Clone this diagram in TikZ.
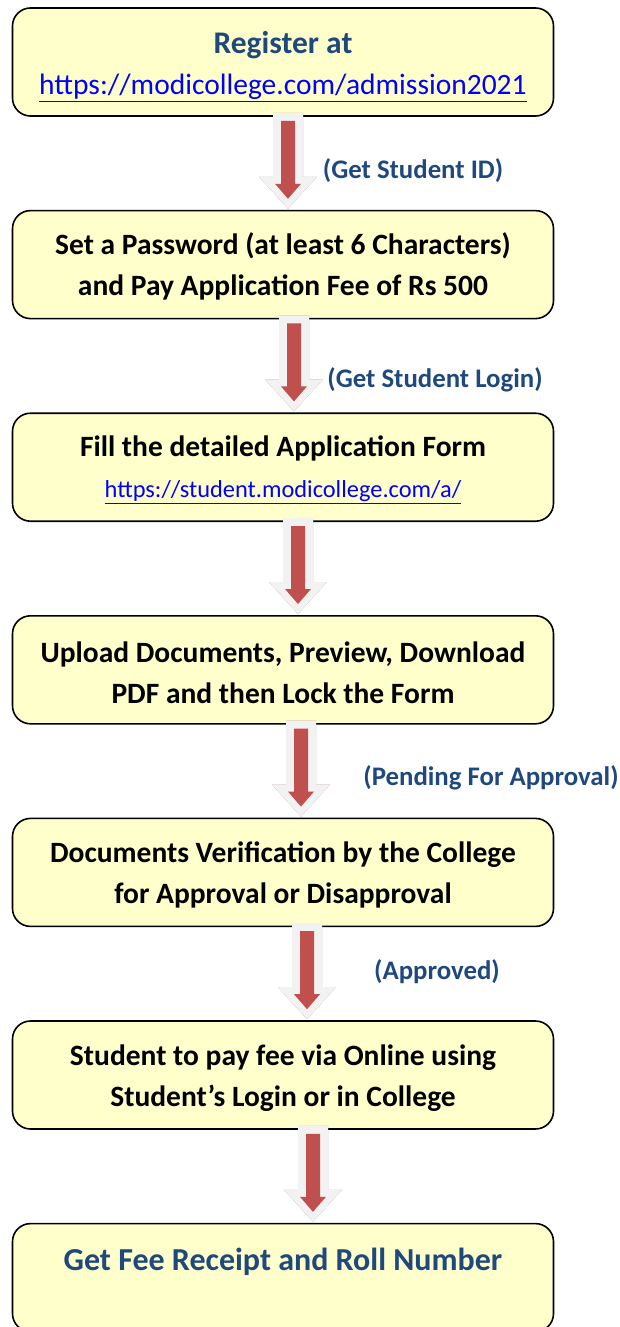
\documentclass[tikz,border=0pt]{standalone}
\usepackage{fontspec}
\setmainfont{Carlito}
\usepackage{xcolor}
\definecolor{BOXCOLOR}{RGB}{255,255,204}
\definecolor{TITLECOLOR}{RGB}{31,73,125}
\definecolor{LINKCOLOR}{RGB}{0,0,255}
\definecolor{ARROWCOLOR}{RGB}{192,80,77}
\definecolor{ARROWBGCOLOR}{RGB}{242,242,242}
\definecolor{SHADOWCOLOR}{RGB}{170,130,130}
\usepackage{tikz}
\usetikzlibrary{positioning,calc}
\tikzset{
  box-style/.style = {
    rectangle, rounded corners=18pt, draw=black, line width=1.6pt,
    fill=BOXCOLOR,
    minimum width=541pt,
    minimum height=108pt,
    inner sep=0pt,
    align=center,
    font=\fontsize{29.5}{41}\selectfont\bfseries
  },
  label-style/.style = {
    text=TITLECOLOR, font=\fontsize{26.8}{30}\selectfont\bfseries, inner sep=0pt
  }
}
\newcommand{\weblink}[1]{\textcolor{LINKCOLOR}{\mdseries\underline{#1}}}
% block arrow between two boxes, #3 = shift of the arrow to the right
\newcommand{\blockarrow}[3]{%
  \path let \p1=([xshift=#3]#1.south), \p2=(#2.north) in
    coordinate (top) at (\x1,\y1+4pt)
    coordinate (tip) at (\x1,\y2+1pt);
  \fill[SHADOWCOLOR,shift={(3pt,-4pt)}]
    ($(top)+(-15pt,0)$) -- ($(top)+(15pt,0)$) -- ($(tip)+(15pt,32pt)$) --
    ($(tip)+(29pt,32pt)$) -- (tip) -- ($(tip)+(-29pt,32pt)$) --
    ($(tip)+(-15pt,32pt)$) -- cycle;
  \fill[ARROWBGCOLOR]
    ($(top)+(-15pt,0)$) -- ($(top)+(15pt,0)$) -- ($(tip)+(15pt,32pt)$) --
    ($(tip)+(29pt,32pt)$) -- (tip) -- ($(tip)+(-29pt,32pt)$) --
    ($(tip)+(-15pt,32pt)$) -- cycle;
  \fill[ARROWCOLOR]
    ($(top)+(-7pt,-8pt)$) -- ($(top)+(7pt,-8pt)$) -- ($(tip)+(7pt,25pt)$) --
    ($(tip)+(13pt,25pt)$) -- ($(tip)+(0,10pt)$) -- ($(tip)+(-13pt,25pt)$) --
    ($(tip)+(-7pt,25pt)$) -- cycle;
}
\begin{document}
\begin{tikzpicture}[x=1pt,y=-1pt]
    \useasboundingbox (0,0) rectangle (619,1327);

    %%% boxes
    \node[box-style] (register) at (283,62)
      {\fontsize{31.5}{41}\selectfont\rule{0pt}{31pt}\textcolor{TITLECOLOR}{Register at}\\
       \fontsize{29.5}{41}\selectfont\weblink{https://modicollege.com/admission2021}};
    \node[box-style,below=93pt of register] (password)
      {\rule{0pt}{26pt}Set a Password (at least 6 Characters)\\ and Pay Application Fee of Rs 500};
    \node[box-style,below=93pt of password] (form)
      {\rule{0pt}{26pt}Fill the detailed Application Form\\
       \fontsize{24.4}{41}\selectfont\weblink{https://student.modicollege.com/a/}};
    \node[box-style,below=93pt of form] (upload)
      {\rule{0pt}{26pt}Upload Documents, Preview, Download\\ PDF and then Lock the Form};
    \node[box-style,below=93pt of upload] (verify)
      {\rule{0pt}{26pt}Documents Verification by the College\\ for Approval or Disapproval};
    \node[box-style,below=93pt of verify] (payfee)
      {\rule{0pt}{26pt}Student to pay fee via Online using\\ Student’s Login or in College};
    \node[box-style,below=93pt of payfee] (receipt)
      {\fontsize{32}{41}\selectfont\rule{0pt}{39pt}\textcolor{TITLECOLOR}{Get Fee Receipt and Roll Number}\\ \strut};

    %%% arrows
    \blockarrow{register}{password}{5pt}
    \blockarrow{password}{form}{11pt}
    \blockarrow{form}{upload}{15pt}
    \blockarrow{upload}{verify}{18pt}
    \blockarrow{verify}{payfee}{24pt}
    \blockarrow{payfee}{receipt}{30pt}

    %%% labels
    \node[label-style] (lbl1) at (413,171) {(Get Student ID)};
    \node[label-style] (lbl2) at (435,380) {(Get Student Login)};
    \node[label-style] (lbl3) at (491,778) {(Pending For Approval)};
    \node[label-style] (lbl4) at (437,972) {(Approved)};
\end{tikzpicture}
\end{document}
